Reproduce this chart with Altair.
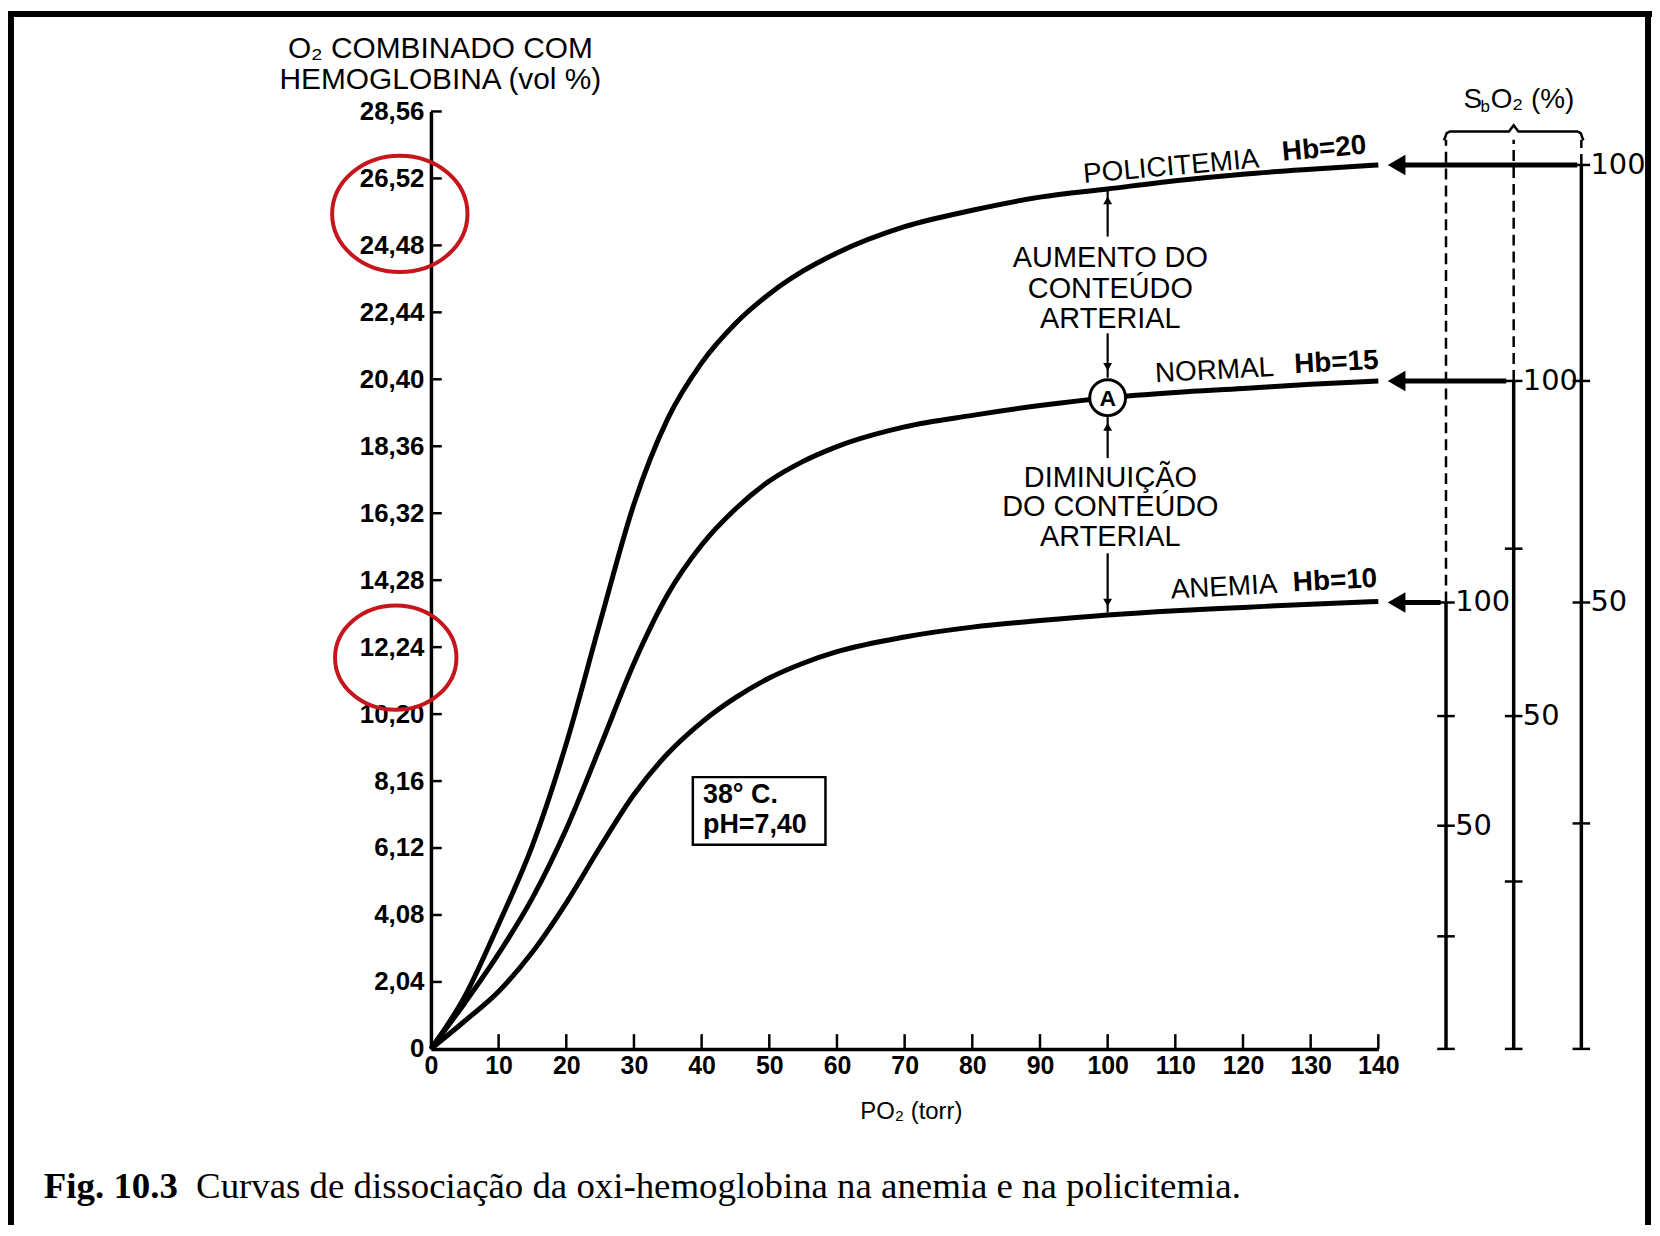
import altair as alt
import pandas as pd

# ---------------- data ----------------
po2 = [0, 5, 10, 15, 20, 25, 30, 35, 40, 45, 50, 55, 60, 70, 80, 90, 100, 110, 120, 130, 140]
policitemia = [0, 1.6, 3.8, 6.2, 9.3, 13.0, 16.6, 19.2, 20.9, 22.1, 23.0, 23.7, 24.25, 25.05, 25.55,
               25.95, 26.2, 26.45, 26.65, 26.8, 26.93]
normal = [0, 1.4, 2.9, 4.6, 6.7, 9.2, 11.75, 13.85, 15.35, 16.45, 17.3, 17.9, 18.35, 18.95, 19.3,
          19.6, 19.84, 20.0, 20.12, 20.25, 20.35]
anemia = [0, 0.85, 1.75, 2.95, 4.45, 6.15, 7.75, 9.0, 9.95, 10.7, 11.3, 11.75, 12.1, 12.55, 12.85,
          13.05, 13.22, 13.35, 13.45, 13.55, 13.63]

y_tick_values = [0, 2.04, 4.08, 6.12, 8.16, 10.20, 12.24, 14.28, 16.32, 18.36, 20.40, 22.44,
                 24.48, 26.52, 28.56]
x_tick_values = [0, 10, 20, 30, 40, 50, 60, 70, 80, 90, 100, 110, 120, 130, 140]

# SbO2 side scales (position on PO2 axis, 100 % level in vol %, tick levels)
scale_x = [150, 160, 170]
scale_top = [13.6, 20.35, 26.93]
scale_fifty = [6.8, 10.14, 13.6]
scale_ticks = [[0, 3.43, 6.8, 10.14, 13.6],
               [0, 5.10, 10.14, 15.24, 20.35],
               [0, 6.87, 13.6, 20.35, 26.93]]
arrow_start = [149.2, 158.9, 169.4]
scale_dash_top = 27.7

# ---------------- layout helpers ----------------
W, H = 952, 942
xs = alt.Scale(domain=[0, 140], nice=False, zero=False)
ys = alt.Scale(domain=[0, 28.56], nice=False, zero=False)
SANS = "Liberation Sans"


def X(f="x"):
    return alt.X(f"{f}:Q", scale=xs, title=None)


def Y(f="y"):
    return alt.Y(f"{f}:Q", scale=ys, title=None)


layers = []

# curves (carry the axes)
rows = []
for name, vals in [("policitemia", policitemia), ("normal", normal), ("anemia", anemia)]:
    for p, v in zip(po2, vals):
        rows.append({"x": p, "y": v, "s": name})
curves = pd.DataFrame(rows)

x_axis = alt.Axis(values=x_tick_values, labelFontSize=25, labelPadding=5)
y_axis = alt.Axis(values=y_tick_values, labelFontSize=26, labelPadding=7,
                  labelExpr="datum.value == 0 ? '0' : replace(format(datum.value, '.2f'), '.', ',')")

layers.append(
    alt.Chart(curves).mark_line(color="black", strokeWidth=5, interpolate="monotone").encode(
        x=alt.X("x:Q", scale=xs, axis=x_axis, title=None),
        y=alt.Y("y:Q", scale=ys, axis=y_axis, title=None),
        detail="s:N")
)

# inward tick marks
ytk = pd.DataFrame({"y": y_tick_values[1:], "x": [0] * 14, "x2": [1.6] * 14})
layers.append(alt.Chart(ytk).mark_rule(color="black", strokeWidth=2.5).encode(
    x=X(), x2="x2:Q", y=Y()))
xtk = pd.DataFrame({"x": x_tick_values[1:], "y": [0] * 14, "y2": [0.45] * 14})
layers.append(alt.Chart(xtk).mark_rule(color="black", strokeWidth=2.5).encode(
    x=X(), y=Y(), y2="y2:Q"))

# side scale lines
solid = pd.DataFrame({"x": scale_x, "y": [0, 0, 0], "y2": scale_top})
layers.append(alt.Chart(solid).mark_rule(color="black", strokeWidth=3.5).encode(
    x=X(), y=Y(), y2="y2:Q"))
dashed = pd.DataFrame({"x": scale_x, "y": scale_top, "y2": [scale_dash_top] * 3})
layers.append(alt.Chart(dashed).mark_rule(color="black", strokeWidth=2.5, strokeDash=[11, 6]).encode(
    x=X(), y=Y(), y2="y2:Q"))
srows = []
for sx, tl in zip(scale_x, scale_ticks):
    for t in tl:
        srows.append({"x": sx - 1.3, "x2": sx + 1.3, "y": t})
layers.append(alt.Chart(pd.DataFrame(srows)).mark_rule(color="black", strokeWidth=2.5).encode(
    x=X(), x2="x2:Q", y=Y()))

# side scale labels
lab = pd.DataFrame({"x": [sx + 1.35 for sx in scale_x] * 2,
                    "y": scale_top + scale_fifty,
                    "t": ["100"] * 3 + ["50"] * 3})
layers.append(alt.Chart(lab).mark_text(font="DejaVu Sans", fontSize=29, align="left",
                                       baseline="middle", color="black").encode(
    x=X(), y=Y(), text="t:N"))

# bracket over the side scales
br = pd.DataFrame({"x": [149.7, 150.1, 150.6, 159.3, 160, 160.7, 169.4, 169.9, 170.3],
                   "y": [27.68, 27.9, 27.95, 27.95, 28.14, 27.95, 27.95, 27.9, 27.68],
                   "o": list(range(9))})
layers.append(alt.Chart(br).mark_line(color="black", strokeWidth=2.5).encode(
    x=X(), y=Y(), order="o:Q"))

# SbO2 (%) label
layers.append(alt.Chart(pd.DataFrame({"x": [152.6], "y": [28.92], "t": ["S"]})).mark_text(
    font=SANS, fontSize=28, align="left", baseline="middle", color="black").encode(
    x=X(), y=Y(), text="t:N"))
layers.append(alt.Chart(pd.DataFrame({"x": [155.1], "y": [28.7], "t": ["b"]})).mark_text(
    font=SANS, fontSize=17, align="left", baseline="middle", color="black").encode(
    x=X(), y=Y(), text="t:N"))
layers.append(alt.Chart(pd.DataFrame({"x": [156.6], "y": [28.92], "t": ["O₂ (%)"]})).mark_text(
    font=SANS, fontSize=28, align="left", baseline="middle", color="black").encode(
    x=X(), y=Y(), text="t:N"))

# horizontal arrows from side scales to curve ends
shaft = pd.DataFrame({"x": [142.2] * 3, "x2": arrow_start, "y": scale_top})
layers.append(alt.Chart(shaft).mark_rule(color="black", strokeWidth=5).encode(
    x=X(), x2="x2:Q", y=Y()))
layers.append(alt.Chart(pd.DataFrame({"x": [142.7] * 3, "y": scale_top})).mark_point(
    shape="triangle-left", filled=True, color="black", size=420, opacity=1).encode(x=X(), y=Y()))

# vertical double arrows at PO2 = 100
vseg = pd.DataFrame({"x": [100] * 4,
                     "y": [24.75, 20.45, 18.0, 13.3],
                     "y2": [26.15, 21.8, 19.25, 15.1]})
layers.append(alt.Chart(vseg).mark_rule(color="black", strokeWidth=2.2).encode(
    x=X(), y=Y(), y2="y2:Q"))
layers.append(alt.Chart(pd.DataFrame({"x": [100, 100], "y": [25.85, 18.95]})).mark_point(
    shape="triangle-up", filled=True, color="black", size=80, opacity=1).encode(x=X(), y=Y()))
layers.append(alt.Chart(pd.DataFrame({"x": [100, 100], "y": [20.78, 13.6]})).mark_point(
    shape="triangle-down", filled=True, color="black", size=80, opacity=1).encode(x=X(), y=Y()))

# point A
layers.append(alt.Chart(pd.DataFrame({"x": [100], "y": [19.84]})).mark_point(
    shape="circle", filled=True, fill="white", stroke="black", strokeWidth=3,
    size=1300, opacity=1).encode(x=X(), y=Y()))
layers.append(alt.Chart(pd.DataFrame({"x": [100], "y": [19.84], "t": ["A"]})).mark_text(
    font=SANS, fontSize=23, fontWeight="bold", align="center", baseline="middle",
    color="black", dy=1).encode(x=X(), y=Y(), text="t:N"))

# central annotations
ann = pd.DataFrame({"x": [100.4] * 6,
                    "y": [24.1, 23.15, 22.25, 17.4, 16.5, 15.58],
                    "t": ["AUMENTO DO", "CONTEÚDO", "ARTERIAL",
                          "DIMINUIÇÃO", "DO CONTEÚDO", "ARTERIAL"]})
layers.append(alt.Chart(ann).mark_text(font=SANS, fontSize=29, align="center",
                                       baseline="middle", color="black").encode(
    x=X(), y=Y(), text="t:N"))


# curve labels
def curve_label(x, y, t, ang, bold):
    return alt.Chart(pd.DataFrame({"x": [x], "y": [y], "t": [t]})).mark_text(
        font=SANS, fontSize=28, fontWeight="bold" if bold else "normal", align="center",
        baseline="middle", angle=ang, color="black").encode(x=X(), y=Y(), text="t:N")


layers += [
    curve_label(109.4, 26.86, "POLICITEMIA", 355, False),
    curve_label(132.0, 27.41, "Hb=20", 355, True),
    curve_label(115.8, 20.65, "NORMAL", 357, False),
    curve_label(133.8, 20.9, "Hb=15", 357, True),
    curve_label(117.2, 14.05, "ANEMIA", 357, False),
    curve_label(133.6, 14.25, "Hb=10", 357, True),
]

# condition box
layers.append(alt.Chart(pd.DataFrame({"x": [38.7], "x2": [58.3], "y": [6.22], "y2": [8.28]})).mark_rect(
    fill="white", stroke="black", strokeWidth=2.5).encode(x=X(), x2="x2:Q", y=Y(), y2="y2:Q"))
layers.append(alt.Chart(pd.DataFrame({"x": [40.2, 40.2], "y": [7.74, 6.82],
                                      "t": ["38° C.", "pH=7,40"]})).mark_text(
    font=SANS, fontSize=27, fontWeight="bold", align="left", baseline="middle", color="black").encode(
    x=X(), y=Y(), text="t:N"))

# axis titles as text
layers.append(alt.Chart(pd.DataFrame({"x": [1.4, 1.4], "y": [30.45, 29.52],
                                      "t": ["O₂ COMBINADO COM", "HEMOGLOBINA (vol %)"]})).mark_text(
    font=SANS, fontSize=30, align="center", baseline="middle", color="black").encode(
    x=X(), y=Y(), text="t:N"))
layers.append(alt.Chart(pd.DataFrame({"x": [71.0], "y": [-1.91], "t": ["PO₂ (torr)"]})).mark_text(
    font=SANS, fontSize=24, align="center", baseline="middle", color="black").encode(
    x=X(), y=Y(), text="t:N"))

# red highlight ellipses
ell = "M -1 0 A 1 0.86 0 1 1 1 0 A 1 0.86 0 1 1 -1 0 Z"
layers.append(alt.Chart(pd.DataFrame({"x": [-4.6], "y": [25.44]})).mark_point(
    shape=ell, filled=False, stroke="#c4161c", strokeWidth=4, size=136 * 136, opacity=1).encode(
    x=X(), y=Y()))
layers.append(alt.Chart(pd.DataFrame({"x": [-5.2], "y": [11.92]})).mark_point(
    shape=ell, filled=False, stroke="#c4161c", strokeWidth=4, size=122 * 122, opacity=1).encode(
    x=X(), y=Y()))

# caption
layers.append(alt.Chart(pd.DataFrame({"x": [-57.2], "y": [-4.55], "t": ["Fig. 10.3"]})).mark_text(
    font="Liberation Serif", fontSize=37, fontWeight="bold", align="left",
    baseline="alphabetic", color="black").encode(x=X(), y=Y(), text="t:N"))
layers.append(alt.Chart(pd.DataFrame({"x": [-34.7], "y": [-4.55],
                                      "t": ["Curvas de dissociação da oxi-hemoglobina na anemia e na policitemia."]})).mark_text(
    font="Liberation Serif", fontSize=37, align="left", baseline="alphabetic", color="black").encode(
    x=X(), y=Y(), text="t:N"))

# figure frame (top, left, right)
one = pd.DataFrame({"a": [0]})
for (x1, x2, y1, y2) in [(-425, 1227, -101, -95), (-425, -419, -101, 1119), (1220, 1226, -101, 1119)]:
    layers.append(alt.Chart(one).mark_rect(color="black").encode(
        x=alt.value(x1), x2=alt.value(x2), y=alt.value(y1), y2=alt.value(y2)))

chart = alt.layer(*layers).properties(
    width=W, height=H,
    autosize=alt.AutoSizeParams(type="none"),
    padding={"left": 425, "top": 101, "right": 275, "bottom": 177},
    background="white",
).configure_view(stroke=None).configure_axis(
    grid=False, ticks=False, domainColor="black", domainWidth=3.5,
    labelColor="black", labelFont=SANS, labelFontWeight="bold",
    labelFlush=False, labelOverlap=False, title=None,
)

chart.save("out.html", embed_options={"renderer": "svg", "actions": False})
